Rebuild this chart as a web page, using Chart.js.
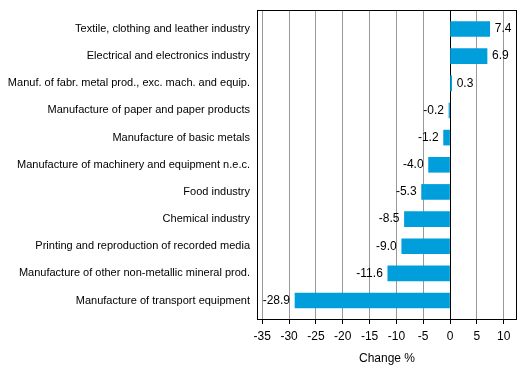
<!DOCTYPE html>
<html>
<head>
<meta charset="utf-8">
<script src="https://cdn.jsdelivr.net/npm/chart.js@4"></script>
<style>
  html, body { margin: 0; padding: 0; background: #fff; }
  #wrap { width: 529px; height: 378px; }
</style>
</head>
<body>
<div id="wrap"><canvas id="chart" width="529" height="378"></canvas></div>
<script>
// categories, top to bottom
var industries = [
  'Textile, clothing and leather industry',
  'Electrical and electronics industry',
  'Manuf. of fabr. metal prod., exc. mach. and equip.',
  'Manufacture of paper and paper products',
  'Manufacture of basic metals',
  'Manufacture of machinery and equipment n.e.c.',
  'Food industry',
  'Chemical industry',
  'Printing and reproduction of recorded media',
  'Manufacture of other non-metallic mineral prod.',
  'Manufacture of transport equipment'
];
// change %
var changes = [7.4, 6.9, 0.3, -0.2, -1.2, -4.0, -5.3, -8.5, -9.0, -11.6, -28.9];
// x axis tick values
var xTicks = [-35, -30, -25, -20, -15, -10, -5, 0, 5, 10];

var FONT = 'Liberation Sans, Arial, sans-serif';

// draws the frame and the value labels
var extras = {
  id: 'extras',
  afterDatasetsDraw: function (chart) {
    var ctx = chart.ctx;
    var a = chart.chartArea;
    var meta = chart.getDatasetMeta(0);
    ctx.save();
    ctx.font = '12px ' + FONT;
    ctx.fillStyle = '#000';
    ctx.textBaseline = 'middle';
    meta.data.forEach(function (bar, i) {
      var v = changes[i];
      if (v >= 0) {
        ctx.textAlign = 'left';
        ctx.fillText(v.toFixed(1), bar.x + 5, bar.y);
      } else {
        ctx.textAlign = 'right';
        ctx.fillText(v.toFixed(1), bar.x - 5, bar.y);
      }
    });
    ctx.strokeStyle = '#000';
    ctx.lineWidth = 1;
    ctx.strokeRect(Math.round(a.left) - 0.5, Math.round(a.top) + 0.5,
                   Math.round(a.right - a.left) + 1, Math.round(a.bottom - a.top));
    ctx.restore();
  }
};

new Chart(document.getElementById('chart'), {
  type: 'bar',
  data: {
    datasets: [{
      data: changes.map(function (v, i) { return { x: v, y: i }; }),
      backgroundColor: '#009fdb',
      borderWidth: 0,
      barThickness: 15
    }]
  },
  options: {
    indexAxis: 'y',
    responsive: false,
    animation: false,
    layout: { padding: { top: 10, right: 13, left: 0, bottom: 0 } },
    plugins: { legend: { display: false }, tooltip: { enabled: false } },
    scales: {
      x: {
        type: 'linear',
        min: -35.8,
        max: 12.3,
        afterBuildTicks: function (s) { s.ticks = xTicks.map(function (v) { return { value: v }; }); },
        afterFit: function (s) { s.height = 59; s.paddingLeft = 0; s.paddingRight = 0; },
        grid: {
          color: function (c) { return c.tick && c.tick.value === 0 ? '#000' : '#999'; },
          tickColor: '#000',
          tickLength: 5,
          drawTicks: true
        },
        border: { display: false },
        ticks: { font: { size: 12, family: FONT }, color: '#000', padding: 5, maxRotation: 0 },
        title: { display: true, text: 'Change %', font: { size: 12, family: FONT }, color: '#000', padding: { top: 4, bottom: 12 } }
      },
      y: {
        type: 'linear',
        offset: false,
        reverse: true,
        min: -0.7,
        max: 10.68,
        afterBuildTicks: function (s) { s.ticks = industries.map(function (_, i) { return { value: i }; }); },
        afterFit: function (s) { s.width = 258; s.paddingTop = 0; s.paddingBottom = 0; },
        grid: { display: false, drawTicks: false },
        border: { display: false },
        ticks: {
          font: { size: 11, family: FONT },
          color: '#000',
          padding: 8,
          callback: function (v) { return industries[v]; }
        }
      }
    }
  },
  plugins: [extras]
});
</script>
</body>
</html>
